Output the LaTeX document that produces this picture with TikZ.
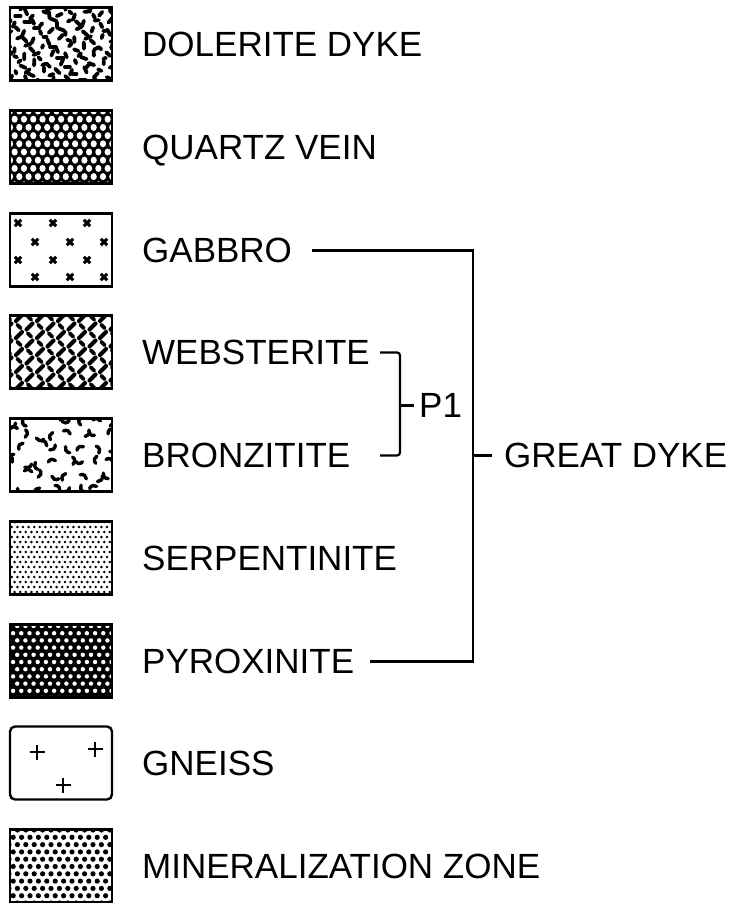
\documentclass[tikz,border=0pt]{standalone}
\usepackage{fontspec}
\setmainfont{Liberation Sans}
\usepackage{tikz}
\usetikzlibrary{calc}

\begin{document}
\begin{tikzpicture}[
  x=1pt, y=-1pt,
  swatch/.style={draw, line width=2.4pt, minimum width=102pt, minimum height=73pt, inner sep=0pt},
  unitname/.style={anchor=base west, inner sep=0pt, font=\fontsize{35}{40}\selectfont},
  bracket/.style={line width=2.2pt},
  dolerite/.style={swatch, path picture={
    \begin{scope}[shift={(path picture bounding box.center)}]
      \foreach \i in {0,...,12}{\foreach \j in {0,...,9}{
        \pgfmathsetmacro\bx{-53+\i*8.6+2.8*sin(\i*137+\j*251)}
        \pgfmathsetmacro\by{-38+\j*8.3+2.8*cos(\i*211+\j*97)}
        \pgfmathsetmacro\ba{mod(\i*67+\j*113,180)}
        \pgfmathsetmacro\bl{1.4+1.8*abs(sin(\i*53+\j*173))}
        \draw[line width=3.8pt, line cap=round]
          ({\bx-\bl*cos(\ba)},{\by-\bl*sin(\ba)}) -- ({\bx+\bl*cos(\ba)},{\by+\bl*sin(\ba)});
      }}
    \end{scope}}},
  quartz/.style={swatch, path picture={
    \begin{scope}[shift={(path picture bounding box.center)}]
      \fill (-56,-40) rectangle (56,40);
      \foreach \r in {0,...,9}{\foreach \c in {0,...,11}{
        \fill[white] ({-51+\c*9.3+mod(\r,2)*4.65},{-36+\r*8.2}) ellipse[x radius=3.1, y radius=3.5];
      }}
    \end{scope}}},
  gabbro/.style={swatch, path picture={
    \begin{scope}[shift={(path picture bounding box.center)}]
      \foreach \gx/\gy in {-43/-27,-8/-27,26/-27,-26/-8,9/-8,43/-8,-43/10,-8/10,26/10,-26/27,9/27,43/27}
        \draw[line width=3pt] (\gx-3.2,\gy-3.2) -- (\gx+3.2,\gy+3.2) (\gx-3.2,\gy+3.2) -- (\gx+3.2,\gy-3.2);
    \end{scope}}},
  websterite/.style={swatch, path picture={
    \begin{scope}[shift={(path picture bounding box.center)}]
      \foreach \i in {-6,...,6}{\foreach \j in {-5,...,5}{
        \pgfmathtruncatemacro\wk{mod(\i+\j+20,2)}
        \ifnum\wk=0
          \draw[line width=4.2pt, line cap=round] (\i*10.5-3,\j*8.5+3) -- (\i*10.5+3,\j*8.5-3);
        \else
          \draw[line width=3.6pt, line cap=round] (\i*10.5-1.8,\j*8.5-1.8) -- (\i*10.5+1.8,\j*8.5+1.8);
        \fi
      }}
    \end{scope}}},
  bronzitite/.style={swatch, path picture={
    \begin{scope}[shift={(path picture bounding box.center)}]
      \foreach \i in {0,...,7}{\foreach \j in {0,...,5}{
        \pgfmathsetmacro\cx{-50+\i*14.2+3*sin(\i*149+\j*83)}
        \pgfmathsetmacro\cy{-35+\j*14+3*cos(\i*59+\j*199)}
        \pgfmathsetmacro\ca{mod(\i*97+\j*211,360)}
        \draw[line width=3.4pt, line cap=round]
          ({\cx+4.5*cos(\ca)},{\cy+4.5*sin(\ca)}) arc[start angle=\ca, delta angle=110, radius=4.5];
      }}
    \end{scope}}},
  serpentinite/.style={swatch, path picture={
    \begin{scope}[shift={(path picture bounding box.center)}]
      \foreach \r in {0,...,15}{\foreach \c in {0,...,19}{
        \fill ({-52+\c*5.6+mod(\r,2)*2.8},{-36+\r*5}) circle[radius=1.4];
      }}
    \end{scope}}},
  pyroxinite/.style={swatch, path picture={
    \begin{scope}[shift={(path picture bounding box.center)}]
      \fill (-56,-40) rectangle (56,40);
      \foreach \r in {0,...,10}{\foreach \c in {0,...,13}{
        \fill[white] ({-52+\c*8.2+mod(\r,2)*4.1},{-35+\r*7.2}) circle[radius=2.2];
      }}
    \end{scope}}},
  gneiss/.style={swatch, rounded corners=5pt, path picture={
    \begin{scope}[shift={(path picture bounding box.center)}]
      \foreach \gx/\gy in {-24/-11,34/-14,2/22}
        \draw[line width=2.8pt] (\gx-7.5,\gy) -- (\gx+7.5,\gy) (\gx,\gy-7.5) -- (\gx,\gy+7.5);
    \end{scope}}},
  mineral/.style={swatch, path picture={
    \begin{scope}[shift={(path picture bounding box.center)}]
      \foreach \r in {0,...,10}{\foreach \c in {0,...,13}{
        \fill ({-52+\c*8.4+mod(\r,2)*4.2},{-36+\r*7.3}) circle[radius=2.6];
      }}
    \end{scope}}}
]
\useasboundingbox (0,0) rectangle (735,903);

\node[dolerite] (sdol) at (61,44) {};
\node[quartz] (squa) at (61,147) {};
\node[gabbro] (sgab) at (61,250) {};
\node[websterite] (sweb) at (61,352) {};
\node[bronzitite] (sbro) at (61,455) {};
\node[serpentinite] (sser) at (61,558) {};
\node[pyroxinite] (spyr) at (61,661) {};
\node[gneiss] (sgne) at (61,763) {};
\node[mineral] (smin) at (61,866) {};

\node[unitname] (ldol) at (142,56.5) {DOLERITE DYKE};
\node[unitname] (lqua) at (142,159.5) {QUARTZ VEIN};
\node[unitname] (lgab) at (142,262.5) {GABBRO};
\node[unitname] (lweb) at (142,364.5) {WEBSTERITE};
\node[unitname] (lbro) at (142,467.5) {BRONZITITE};
\node[unitname] (lser) at (142,570.5) {SERPENTINITE};
\node[unitname] (lpyr) at (142,673.5) {PYROXINITE};
\node[unitname] (lgne) at (142,775.5) {GNEISS};
\node[unitname] (lmin) at (142,878.5) {MINERALIZATION ZONE};

\node[unitname] (lp1) at (419,417.5) {P1};
\node[unitname] (lgreat) at (504,467.5) {GREAT DYKE};

\coordinate (p1l) at (380,0);
\coordinate (p1x) at (400,0);
\coordinate (gdx) at (473,0);

\draw[bracket, rounded corners=3pt] (lweb.east -| p1l) -- (lweb.east -| p1x) -- (lbro.east -| p1x) -- (lbro.east -| p1l);
\draw[bracket] (lp1.west -| p1x) -- ([xshift=-5pt]lp1.west);
\draw[bracket] ([xshift=20pt]lgab.east) -- (lgab.east -| gdx) -- (lpyr.east -| gdx) -- ([xshift=16pt]lpyr.east);
\draw[bracket] (lgreat.west -| gdx) -- ([xshift=-12pt]lgreat.west);
\end{tikzpicture}
\end{document}
